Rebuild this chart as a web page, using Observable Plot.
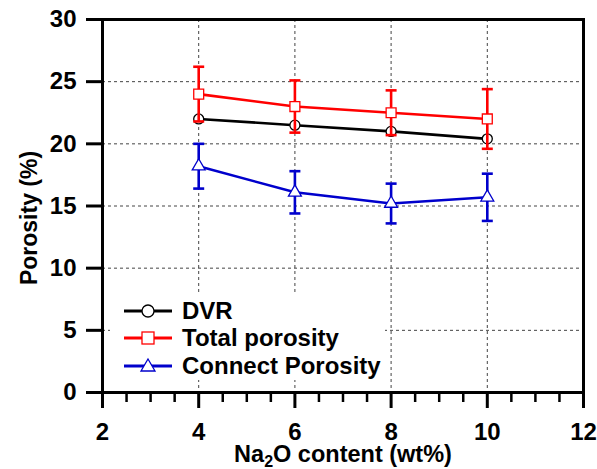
<!DOCTYPE html>
<html><head><meta charset="utf-8">
<script src="https://cdn.jsdelivr.net/npm/d3@7"></script>
<script src="https://cdn.jsdelivr.net/npm/@observablehq/plot@0.6"></script>
<style>
body{margin:0;background:#fff;}
#wrap{position:relative;width:597px;height:469px;}
#legend{position:absolute;left:110px;top:294px;width:275px;height:86px;background:#fff;font:bold 24px "Liberation Sans",Arial,sans-serif;color:#000;}
.row{position:absolute;left:0;height:28px;display:flex;align-items:center;}
.row svg{margin-left:14px;}
.row span{margin-left:10px;white-space:nowrap;}
</style></head><body><div id="wrap"></div>
<script>
const xValues = [4, 6, 8, 10];
const dvr = [22.0, 21.5, 21.0, 20.4];
const totalPorosity = [24.0, 23.0, 22.5, 22.0];
const totalErr = [2.2, 2.1, 1.8, 2.4];
const connectPorosity = [18.2, 16.1, 15.2, 15.7];
const connectErr = [1.8, 1.7, 1.6, 1.9];
const xTicks = [2, 4, 6, 8, 10, 12];
const xMinorTicks = [2.5, 3, 3.5, 4.5, 5, 5.5, 6.5, 7, 7.5, 8.5, 9, 9.5, 10.5, 11, 11.5];
const yTicks = [0, 5, 10, 15, 20, 25, 30];
const xGrid = [4, 6, 8, 10];
const yGrid = [5, 10, 15, 20, 25];
const seriesNames = ["DVR", "Total porosity", "Connect Porosity"];
const seriesColors = ["#000000", "#ff0000", "#0000cc"];

const dvrData = xValues.map((x, i) => ({x, y: dvr[i]}));
const totalData = xValues.map((x, i) => ({x, y: totalPorosity[i], lo: totalPorosity[i] - totalErr[i], hi: totalPorosity[i] + totalErr[i]}));
const connectData = xValues.map((x, i) => ({x, y: connectPorosity[i], lo: connectPorosity[i] - connectErr[i], hi: connectPorosity[i] + connectErr[i]}));

const capSymbol = {draw(ctx, size) { const w = Math.sqrt(size / Math.PI); ctx.moveTo(-w, 0); ctx.lineTo(w, 0); }};
const font = '"Liberation Sans", Arial, sans-serif';
const lw = 2.6;

function errorMarks(data, color) {
  return [
    Plot.ruleX(data, {x: "x", y1: "lo", y2: "hi", stroke: color, strokeWidth: lw}),
    Plot.dot(data, {x: "x", y: "hi", symbol: capSymbol, r: 5.5, stroke: color, strokeWidth: lw}),
    Plot.dot(data, {x: "x", y: "lo", symbol: capSymbol, r: 5.5, stroke: color, strokeWidth: lw})
  ];
}

const chart = Plot.plot({
  width: 597, height: 469,
  marginLeft: 102, marginRight: 14, marginTop: 19, marginBottom: 77,
  style: {fontFamily: font, color: "#000", background: "#fff"},
  x: {domain: [2, 12]},
  y: {domain: [0, 30]},
  marks: [
    Plot.gridX(xGrid, {stroke: "#444", strokeOpacity: 1, strokeDasharray: "3,3", strokeWidth: 1}),
    Plot.gridY(yGrid, {stroke: "#444", strokeOpacity: 1, strokeDasharray: "3,3", strokeWidth: 1}),
    Plot.axisY(yTicks, {anchor: "left", tickSize: 16, tickPadding: 10, fontSize: 24, fontWeight: "bold", strokeWidth: 3, label: null}),
    Plot.axisX(xTicks, {anchor: "bottom", tickSize: 16, tickPadding: 14, fontSize: 24, fontWeight: "bold", strokeWidth: 3, label: null}),
    Plot.axisX(xMinorTicks, {anchor: "bottom", tickSize: 10, tickFormat: () => "", strokeWidth: 2.5, label: null}),
    Plot.frame({stroke: "#000", strokeWidth: 3}),
    Plot.line(dvrData, {x: "x", y: "y", stroke: seriesColors[0], strokeWidth: lw}),
    Plot.dot(dvrData, {x: "x", y: "y", symbol: "circle", r: 5, fill: "#fff", stroke: seriesColors[0], strokeWidth: 1.3}),
    Plot.line(totalData, {x: "x", y: "y", stroke: seriesColors[1], strokeWidth: lw}),
    ...errorMarks(totalData, seriesColors[1]),
    Plot.dot(totalData, {x: "x", y: "y", symbol: "square", r: 5.6, fill: "#fff", stroke: seriesColors[1], strokeWidth: 1.3}),
    Plot.line(connectData, {x: "x", y: "y", stroke: seriesColors[2], strokeWidth: lw}),
    ...errorMarks(connectData, seriesColors[2]),
    Plot.dot(connectData, {x: "x", y: "y", symbol: "triangle", r: 4.8, fill: "#fff", stroke: seriesColors[2], strokeWidth: 1.3})
  ]
});

const svg = d3.select(chart);
svg.append("text")
  .attr("transform", "translate(37,218) rotate(-90)")
  .attr("text-anchor", "middle")
  .attr("font-size", 23).attr("font-weight", "bold").attr("font-family", font).attr("fill", "#000")
  .text("Porosity (%)");
const xl = svg.append("text")
  .attr("x", 343).attr("y", 462)
  .attr("text-anchor", "middle")
  .attr("font-size", 23.5).attr("font-weight", "bold").attr("font-family", font).attr("fill", "#000");
xl.append("tspan").text("Na");
xl.append("tspan").attr("font-size", 16).attr("dy", 5).text("2");
xl.append("tspan").attr("dy", -5).text("O content (wt%)");

const wrap = document.getElementById("wrap");
wrap.appendChild(chart);

// legend
const legend = document.createElement("div");
legend.id = "legend";
const symbols = [
  '<circle cx="24" cy="10" r="6" fill="#fff" stroke="#000" stroke-width="1.3"/>',
  '<rect x="18" y="4" width="12" height="12" fill="#fff" stroke="#ff0000" stroke-width="1.3"/>',
  '<path d="M24,3 L31,15 L17,15 Z" fill="#fff" stroke="#0000cc" stroke-width="1.3"/>'
];
const tops = [3, 30, 58];
seriesNames.forEach((name, i) => {
  const row = document.createElement("div");
  row.className = "row";
  row.style.top = tops[i] + "px";
  row.innerHTML = `<svg width="48" height="20"><line x1="0" x2="48" y1="10" y2="10" stroke="${seriesColors[i]}" stroke-width="3"/>${symbols[i]}</svg><span>${name}</span>`;
  legend.appendChild(row);
});
wrap.appendChild(legend);
</script>
</body></html>
